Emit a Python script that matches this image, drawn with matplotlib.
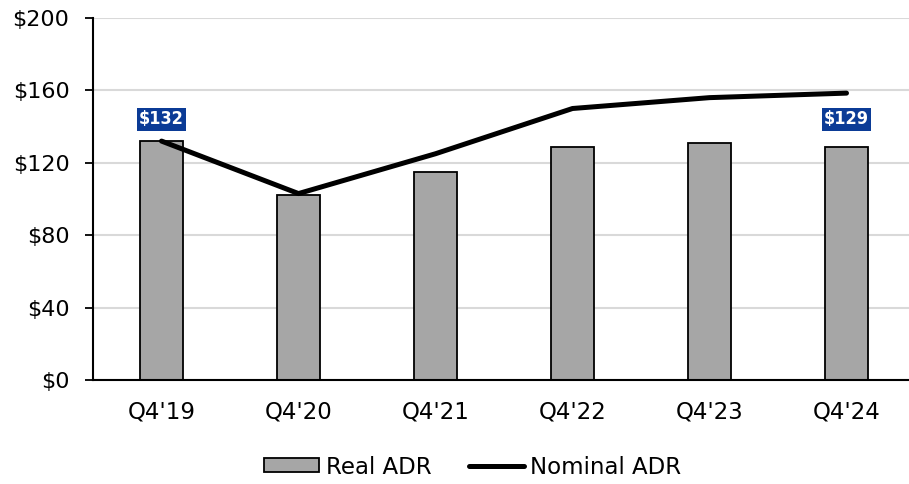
import numpy as np
import matplotlib.pyplot as plt

# Data
quarters = ["Q4'19", "Q4'20", "Q4'21", "Q4'22", "Q4'23", "Q4'24"]
real_adr = [132, 102, 115, 129, 131, 129]
nominal_adr = [132, 103, 125, 150, 156, 158.5]
label_idx = [0, 5]
label_text = ["$132", "$129"]

plt.rcParams['font.family'] = ['DejaVu Sans']

fig = plt.figure(figsize=(9.09, 4.84), dpi=100)
ax = fig.add_axes([93 / 909, 104 / 484, 822 / 909, 362 / 484])

x = np.arange(len(quarters))
bars = ax.bar(x, real_adr, width=0.31, color='#A6A6A6', edgecolor='black',
              linewidth=1.3, label="Real ADR", zorder=2)
line, = ax.plot(x, nominal_adr, color='black', linewidth=3.6,
                solid_capstyle='round', label="Nominal ADR", zorder=3)

# data labels in blue boxes
for i, t in zip(label_idx, label_text):
    ax.text(x[i], 144, t, ha='center', va='center', color='white',
            fontsize=13, fontweight='bold', fontstretch='condensed',
            bbox=dict(boxstyle='square,pad=0.13', facecolor='#0B3B96',
                      edgecolor='none'), zorder=4)

ax.set_xlim(-0.5, 5.5)
ax.set_ylim(0, 200)
ax.set_yticks(np.arange(0, 201, 40))
ax.set_yticklabels([f"${v}" for v in range(0, 201, 40)])
ax.set_xticks(x)
ax.set_xticklabels(quarters)

ax.tick_params(axis='y', length=6, width=1.3, pad=11, labelsize=16)
ax.tick_params(axis='x', length=0, pad=15, labelsize=16.5)

ax.grid(axis='y', color='#D9D9D9', linewidth=1.5, zorder=0)
ax.set_axisbelow(True)
for s in ['top', 'right']:
    ax.spines[s].set_visible(False)
for s in ['left', 'bottom']:
    ax.spines[s].set_linewidth(1.5)
    ax.spines[s].set_zorder(5)

fig.legend([bars, line], ["Real ADR", "Nominal ADR"], loc='center',
           bbox_to_anchor=(473 / 909, 1 - 467 / 484), ncol=2,
           frameon=False, fontsize=16.5, handlelength=2.4, handleheight=0.55,
           handletextpad=0.3, columnspacing=1.6)

fig.savefig("out.png", dpi=100)
